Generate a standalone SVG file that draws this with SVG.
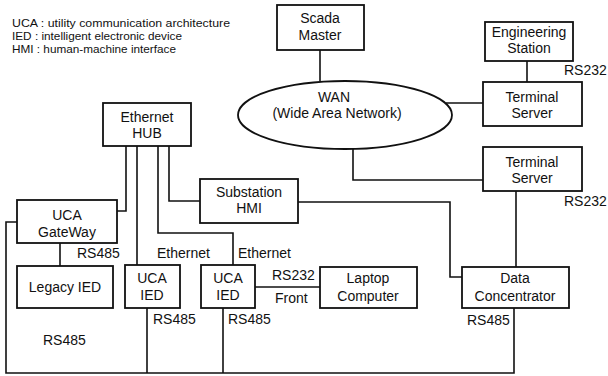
<svg xmlns="http://www.w3.org/2000/svg" width="608" height="376" viewBox="0 0 608 376">
<style>
.box{fill:#fff;stroke:#111;stroke-width:1.8}
.ln{fill:none;stroke:#111;stroke-width:1.6}
text{font-family:"Liberation Sans",Arial,sans-serif;fill:#111}
.t{font-size:14px;text-anchor:middle}
.l{font-size:14px}
.g{font-size:10.5px}
</style>
<rect width="608" height="376" fill="#fff"/>
<g id="legend">
<text class="g" x="12" y="27" textLength="218" lengthAdjust="spacingAndGlyphs">UCA : utility communication architecture</text>
<text class="g" x="12" y="40" textLength="170" lengthAdjust="spacingAndGlyphs">IED : intelligent electronic device</text>
<text class="g" x="12" y="53" textLength="164" lengthAdjust="spacingAndGlyphs">HMI : human-machine interface</text>
</g>
<g id="connectors">
<path class="ln" d="M320,50 V81"/>
<path class="ln" d="M446,103 H483"/>
<path class="ln" d="M527,61 V82"/>
<path class="ln" d="M353,148 V180 H483"/>
<path class="ln" d="M516,191 V267"/>
<path class="ln" d="M514,308 V373 H6 V222 H17"/>
<path class="ln" d="M60,243 V266"/>
<path class="ln" d="M126,146 V211 H117"/>
<path class="ln" d="M137,146 V265"/>
<path class="ln" d="M158,146 V233 H233 V265"/>
<path class="ln" d="M169,146 V201 H200"/>
<path class="ln" d="M147,308 V373"/>
<path class="ln" d="M223,308 V373"/>
<path class="ln" d="M255,287 H320"/>
<path class="ln" d="M298,202 H450 V277 H462"/>
</g>
<g id="scada">
<rect class="box" x="277" y="5" width="87" height="45"/>
<text class="t" x="320" y="23">Scada</text>
<text class="t" x="320" y="40">Master</text>
</g>
<g id="wan">
<ellipse class="box" cx="345" cy="115" rx="107" ry="34"/>
<text class="t" x="334" y="102">WAN</text>
<text class="t" x="337" y="118">(Wide Area Network)</text>
</g>
<g id="engineering">
<rect class="box" x="485" y="22" width="88" height="39"/>
<text class="t" x="529" y="37">Engineering</text>
<text class="t" x="529" y="53">Station</text>
</g>
<g id="ts1">
<rect class="box" x="483" y="82" width="99" height="44"/>
<text class="t" x="532" y="102">Terminal</text>
<text class="t" x="532" y="118">Server</text>
</g>
<g id="ts2">
<rect class="box" x="483" y="147" width="99" height="44"/>
<text class="t" x="532" y="167">Terminal</text>
<text class="t" x="532" y="183">Server</text>
</g>
<g id="hub">
<rect class="box" x="103" y="103" width="88" height="43"/>
<text class="t" x="147" y="122">Ethernet</text>
<text class="t" x="147" y="138">HUB</text>
</g>
<g id="hmi">
<rect class="box" x="200" y="179" width="98" height="44"/>
<text class="t" x="249" y="197">Substation</text>
<text class="t" x="249" y="213">HMI</text>
</g>
<g id="gateway">
<rect class="box" x="17" y="200" width="100" height="43"/>
<text class="t" x="67" y="220">UCA</text>
<text class="t" x="67" y="237">GateWay</text>
</g>
<g id="legacy">
<rect class="box" x="17" y="266" width="96" height="42"/>
<text class="t" x="65" y="292">Legacy IED</text>
</g>
<g id="ied1">
<rect class="box" x="125" y="265" width="55" height="43"/>
<text class="t" x="152" y="283">UCA</text>
<text class="t" x="152" y="300">IED</text>
</g>
<g id="ied2">
<rect class="box" x="201" y="265" width="54" height="43"/>
<text class="t" x="228" y="283">UCA</text>
<text class="t" x="228" y="300">IED</text>
</g>
<g id="laptop">
<rect class="box" x="320" y="267" width="97" height="41"/>
<text class="t" x="368" y="283">Laptop</text>
<text class="t" x="368" y="301">Computer</text>
</g>
<g id="dc">
<rect class="box" x="462" y="267" width="107" height="41"/>
<text class="t" x="515" y="283">Data</text>
<text class="t" x="515" y="301">Concentrator</text>
</g>
<g id="labels">
<text class="l" x="564" y="75">RS232</text>
<text class="l" x="564" y="206">RS232</text>
<text class="l" x="77" y="258">RS485</text>
<text class="l" x="157" y="258">Ethernet</text>
<text class="l" x="238" y="258">Ethernet</text>
<text class="l" x="272" y="280">RS232</text>
<text class="l" x="275" y="303">Front</text>
<text class="l" x="153" y="324">RS485</text>
<text class="l" x="228" y="324">RS485</text>
<text class="l" x="467" y="325">RS485</text>
<text class="l" x="43" y="345">RS485</text>
</g>
</svg>
